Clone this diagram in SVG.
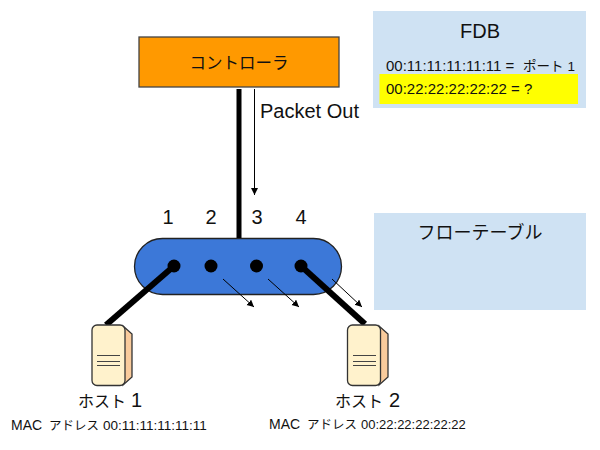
<svg xmlns="http://www.w3.org/2000/svg" width="600" height="450" viewBox="0 0 600 450">
<style>
text{font-family:"Liberation Sans","Noto Sans CJK JP",sans-serif;fill:#111}
.l{font-size:20px;text-anchor:middle}
.thick{stroke:#000;stroke-width:6;fill:none}
.thin{stroke:#000;stroke-width:1;fill:none;marker-end:url(#a)}
.port{fill:#000}
.panel{fill:#cfe2f3}
.body{fill:#fff2cc;stroke:#333;stroke-width:1.3}
.side{fill:#f9cb9c;stroke:#333;stroke-width:1.3}
.sl{stroke:#444;stroke-width:1.2}
.j{font-size:12.500px}
.a{font-size:13.500px}
.f{font-size:15px}
.fj{font-size:13.500px}
.h{font-size:16px}
.n{font-size:20px}
</style>
<defs><marker id="a" markerUnits="userSpaceOnUse" markerWidth="8" markerHeight="8" refX="7" refY="3.5" orient="auto"><path d="M0 0L7 3.5L0 7Z" fill="#000"/></marker></defs>
<rect width="600" height="450" fill="#fff"/>
<g id="fdb"><rect class="panel" x="373" y="11" width="213" height="97"/><text class="l" x="480" y="38">FDB</text><text class="f" x="386" y="71">00:11:11:11:11:11 = <tspan class="fj" x="523">ポート </tspan><tspan class="a" x="567.500">1</tspan></text><rect x="379.500" y="74" width="198.500" height="30" fill="#ff0"/><text class="f" x="386" y="94">00:22:22:22:22:22 = ?</text></g>
<g id="flow-table"><rect class="panel" x="374" y="213" width="212" height="97"/><text x="480" y="239" font-size="18" text-anchor="middle">フローテーブル</text></g>
<g id="controller"><rect x="139" y="37" width="200" height="50" fill="#f90" stroke="#444" stroke-width="1.3"/><text x="239" y="69" font-size="16.500" text-anchor="middle">コントローラ</text></g>
<g id="switch"><rect x="134.500" y="238.500" width="207" height="56" rx="28" fill="#3c78d8" stroke="#222" stroke-width="1.3"/></g>
<g id="connectors">
<path class="thick" style="stroke-width:5" d="M239 89V238"/>
<path class="thin" d="M254.500 89V195"/>
<path class="thick" d="M174 266L106 325"/>
<path class="thick" d="M301 266L365 324"/>
<path class="thin" d="M223 279L254 307"/>
<path class="thin" d="M268 279L299 307"/>
<path class="thin" d="M332 279L362 307"/>
</g>
<g id="port-1"><circle class="port" cx="174" cy="266" r="6.500"/><text class="l" x="168" y="224">1</text></g>
<g id="port-2"><circle class="port" cx="211" cy="266" r="6.500"/><text class="l" x="211" y="224">2</text></g>
<g id="port-3"><circle class="port" cx="256.500" cy="266" r="6.500"/><text class="l" x="257" y="224">3</text></g>
<g id="port-4"><circle class="port" cx="301" cy="266" r="6.500"/><text class="l" x="301" y="224">4</text></g>
<text id="packet-out" x="260" y="118" font-size="20">Packet Out</text>
<g id="host-1"><path class="side" d="M123 326L132 334V377L123 385Z"/><rect class="body" x="92" y="325" width="33" height="60.500" rx="5"/><path class="sl" d="M97 355.500H120M97 361.500H120M97 365.500H120"/><text class="h" x="78" y="407">ホスト <tspan class="n" x="131">1</tspan></text><text class="a" x="11" y="430"><tspan font-size="14">MAC </tspan><tspan class="j" x="49">アドレス </tspan><tspan x="103">00:11:11:11:11:11</tspan></text></g>
<g id="host-2"><path class="side" d="M379 326L388 334V377L379 385Z"/><rect class="body" x="347.500" y="325" width="33" height="60.500" rx="5"/><path class="sl" d="M353 355.500H376M353 361.500H376M353 365.500H376"/><text class="h" x="335" y="407">ホスト <tspan class="n" x="389">2</tspan></text><text class="a" x="269" y="429"><tspan font-size="14">MAC </tspan><tspan class="j" x="307">アドレス </tspan><tspan x="361" font-size="13">00:22:22:22:22:22</tspan></text></g>
</svg>
